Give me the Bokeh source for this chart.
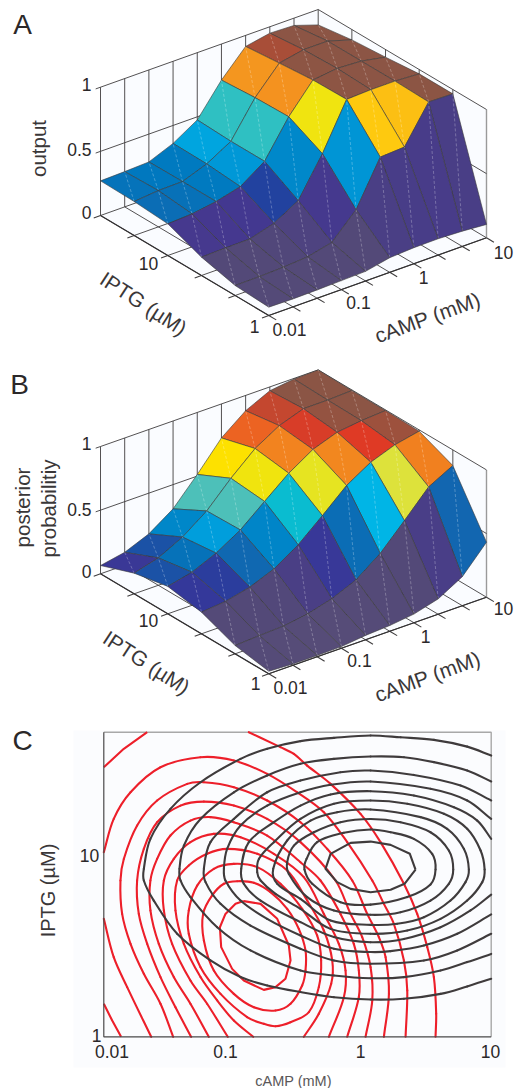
import numpy as np
from bokeh.plotting import figure
from bokeh.layouts import column
from bokeh.models import Range1d
from bokeh.core.properties import value
from bokeh.embed import file_html
from bokeh.resources import INLINE

FONT = "Liberation Sans"
INK = "#2b2829"

# ---- surface heights; rows run from IPTG = 1 (first) to the highest IPTG, columns cAMP 0.01 ... 10
output_z = [
    [.065, .062, .065, .070, .075, .114, .125, .127, .119, .104],
    [.078, .080, .086, .100, .145, .332, .675, .686, .970, .966],
    [.143, .148, .150, .205, .314, .613, .969, .977, .977, .966],
    [.247, .257, .286, .335, .465, .745, .964, .987, .977, .940],
    [.265, .283, .286, .356, .465, .738, .940, .977, .977, .919],
    [.270, .275, .283, .360, .476, .719, .914, .950, .943, .880],
]
posterior_z = [
    [.020, .010, .010, .013, .034, .045, .068, .120, .228, .432],
    [.065, .076, .084, .113, .165, .246, .387, .578, .776, .877],
    [.170, .188, .233, .309, .432, .594, .764, .880, .950, .990],
    [.215, .260, .343, .458, .615, .770, .890, .958, .982, .995],
    [.162, .215, .312, .450, .640, .807, .920, .986, .987, .995],
    [.065, .102, .180, .310, .513, .733, .880, .970, .995, 1.00],
]

# ---- colour scale of the surfaces
scale_z = [0, .08, .114, .148, .17, .205, .228, .26, .283, .314, .345, .387, .432, .45, .46, .462, .578, .60, .64, .675, .72, .776, .807, .88, .92, .94, .964, 1]
scale_c = ["#564c78", "#534978", "#4a3f85", "#45388f", "#34389a", "#22429f", "#1266b0", "#0672b9", "#0078bf", "#0088ca",
           "#009fdd", "#00b5e6", "#0abcd0", "#4dc0b9", "#4dc0b9", "#2abfc6", "#dde23b", "#e9e517", "#fde100", "#fec90f", "#f6a01f", "#f1801f",
           "#ec6322", "#df3a25", "#c4472f", "#a84e38", "#8d5544", "#8a5546"]

# ---- contour traces, log10(cAMP) and log10(IPTG)
b1_x = [1.0, .814, .556, .298, .066, -.218, -.477, -.735, -.941, -1.251, -1.484, -1.639, -1.690, -1.690, -1.613, -1.432, -1.174, -.941, -.735, -.477, -.218, .066, .324, .608, .814, 1.0]
b1_y = [1.540, 1.589, 1.626, 1.640, 1.650, 1.637, 1.619, 1.577, 1.522, 1.394, 1.248, 1.084, .920, .856, .746, .564, .418, .327, .281, .245, .217, .204, .208, .235, .276, .318]
b2_x = [1.0, .814, .556, .324, .066, -.218, -.477, -.735, -.993, -1.251, -1.380, -1.414, -1.406, -1.329, -1.122, -.864, -.477, -.218, .066, .324, .608, .814, 1.0]
b2_y = [1.398, 1.458, 1.504, 1.531, 1.535, 1.522, 1.495, 1.431, 1.339, 1.193, 1.047, .920, .856, .765, .600, .473, .363, .336, .321, .327, .363, .409, .454]
b3_x = [1.0, .763, .401, .066, -.167, -.477, -.735, -.993, -1.174, -1.225, -1.212, -1.096, -.864, -.477, -.218, .066, .479, .737, 1.0]
b3_y = [1.294, 1.376, 1.434, 1.458, 1.449, 1.403, 1.339, 1.193, 1.066, .920, .847, .728, .609, .482, .418, .400, .418, .473, .564]
b4_x = [1.0, .814, .530, .066, -.244, -.477, -.735, -.941, -1.045, -1.070, -1.058, -.941, -.735, -.477, -.218, .066, .221, .479, .737, 1.0]
b4_y = [1.193, 1.294, 1.358, 1.398, 1.380, 1.339, 1.266, 1.157, 1.029, .920, .856, .746, .646, .555, .482, .464, .469, .500, .564, .670]
b5_x = [1.0, .892, .711, .401, .066, -.244, -.477, -.683, -.877, -.936, -.916, -.786, -.477, -.218, .066, .324, .608, .840, 1.0]
b5_y = [1.084, 1.184, 1.257, 1.321, 1.345, 1.327, 1.266, 1.175, 1.066, .920, .838, .746, .628, .546, .518, .536, .600, .692, .779]
b6_x = [.949, .918, .814, .634, .350, .066, -.218, -.477, -.683, -.799, -.812, -.786, -.670, -.477, -.244, .066, .350, .608, .814, .931, .949]
b6_y = [.916, 1.020, 1.139, 1.221, 1.276, 1.294, 1.276, 1.193, 1.066, .974, .901, .856, .783, .701, .591, .564, .582, .646, .746, .847, .916]
b7_x = [.827, .789, .659, .453, .066, -.193, -.399, -.580, -.688, -.657, -.477, -.244, .066, .272, .479, .685, .801, .827]
b7_y = [.916, 1.029, 1.139, 1.203, 1.245, 1.230, 1.184, 1.075, .920, .838, .755, .637, .613, .619, .655, .746, .847, .916]
b8_x = [.706, .672, .530, .298, .066, -.167, -.373, -.528, -.580, -.567, -.425, -.218, .066, .298, .530, .672, .706]
b8_y = [.916, 1.020, 1.120, 1.175, 1.193, 1.175, 1.120, 1.047, .956, .892, .765, .692, .668, .682, .746, .838, .916]
b9_x = [.569, .543, .401, .221, .066, -.141, -.348, -.430, -.446, -.386, -.167, .066, .350, .530, .569]
b9_y = [.916, 1.002, 1.084, 1.120, 1.135, 1.117, 1.066, .974, .916, .838, .737, .724, .765, .834, .916]
b10_x = [.414, .370, .221, .066, -.089, -.244, -.283, -.193, -.089, .066, .221, .329, .414]
b10_y = [.916, 1.002, 1.051, 1.069, 1.062, 1.002, .920, .847, .810, .792, .805, .838, .916]

r1_x = [-.916, -.786, -.657, -.567, -.554, -.593, -.670, -.761, -.916, -1.006, -1.091, -1.101, -1.058, -.980, -.916]
r1_y = [.743, .728, .646, .500, .418, .318, .272, .257, .308, .372, .491, .600, .673, .728, .743]
r2_x = [-.967, -.838, -.709, -.580, -.490, -.438, -.438, -.464, -.554, -.670, -.838, -.993, -1.148, -1.225, -1.231, -1.161, -1.070, -.967]
r2_y = [.852, .843, .792, .701, .591, .473, .363, .281, .181, .144, .162, .235, .363, .527, .673, .774, .838, .852]
r3_x = [-.993, -.812, -.632, -.464, -.348, -.317, -.335, -.412, -.554, -.670, -.761, -.890, -1.096, -1.251, -1.342, -1.342, -1.277, -1.148, -.993]
r3_y = [.947, .929, .838, .701, .555, .418, .272, .135, .080, .058, .071, .108, .235, .381, .564, .692, .828, .920, .947]
r4_x = [-.843, -.993, -1.122, -1.251, -1.380, -1.445, -1.432, -1.342, -1.200, -1.045, -.812, -.580, -.425, -.296, -.231, -.239, -.335, -.451]
r4_y = [0, .089, .199, .327, .509, .692, .856, .938, 1.002, 1.029, 1.002, .911, .746, .582, .418, .290, .126, 0]
r5_x = [-1.040, -1.200, -1.329, -1.471, -1.535, -1.535, -1.458, -1.329, -1.148, -.941, -.683, -.451, -.296, -.180, -.128, -.141, -.257]
r5_y = [0, .181, .308, .509, .692, .856, .974, 1.066, 1.111, 1.093, 1.002, .874, .673, .509, .363, .217, 0]
r6_x = [-1.187, -1.329, -1.458, -1.574, -1.639, -1.639, -1.587, -1.484, -1.329, -1.174, -.993, -.735, -.477, -.322, -.167, -.064, -.025, -.025, -.115]
r6_y = [0, .181, .327, .509, .692, .856, .974, 1.102, 1.184, 1.203, 1.175, 1.102, .956, .856, .673, .509, .363, .217, 0]
r7_x = [-1.324, -1.445, -1.561, -1.664, -1.729, -1.742, -1.690, -1.587, -1.406, -1.225, -.993, -.735, -.477, -.206, -.089, .001, .066, .079, .027]
r7_y = [0, .162, .327, .509, .673, .856, 1.029, 1.175, 1.266, 1.288, 1.266, 1.193, 1.066, .856, .673, .546, .381, .199, 0]
r8_x = [-1.463, -1.561, -1.690, -1.793, -1.858, -1.871, -1.845, -1.742, -1.587, -1.354, -1.225, -.993, -.735, -.477, -.270, -.076, .040, .130, .182, .208, .169]
r8_y = [0, .181, .345, .509, .673, .856, .974, 1.157, 1.294, 1.385, 1.394, 1.367, 1.294, 1.175, 1.029, .856, .673, .546, .436, .235, 0]
r9a_x = [-2, -1.923, -1.793, -1.561, -1.251, -.993, -.735, -.502, -.296, -.115, .079, .169, .246, .324, .350, .337]
r9a_y = [1.011, 1.193, 1.339, 1.476, 1.531, 1.513, 1.440, 1.339, 1.230, 1.066, .856, .728, .619, .418, .254, 0]
r9b_x = [-2, -1.923, -1.819, -1.633]
r9b_y = [.646, .436, .272, 0]
r10a_x = [-2, -1.845, -1.664]
r10a_y = [1.476, 1.577, 1.668]
r10b_x = [-.877, -.632, -.528, -.425, -.244, -.012, .143, .324, .427, .505, .556, .574, .569]
r10b_y = [1.668, 1.586, 1.549, 1.485, 1.385, 1.221, 1.066, .838, .673, .491, .327, .126, 0]
r10c_x = [-2, -1.935, -1.866]
r10c_y = [.181, .089, 0]

black_traces = [(b1_x, b1_y), (b2_x, b2_y), (b3_x, b3_y), (b4_x, b4_y), (b5_x, b5_y),
                (b6_x, b6_y), (b7_x, b7_y), (b8_x, b8_y), (b9_x, b9_y), (b10_x, b10_y)]
red_traces = [(r1_x, r1_y), (r2_x, r2_y), (r3_x, r3_y), (r4_x, r4_y), (r5_x, r5_y), (r6_x, r6_y), (r7_x, r7_y),
              (r8_x, r8_y), (r9a_x, r9a_y), (r9b_x, r9b_y), (r10a_x, r10a_y), (r10b_x, r10b_y), (r10c_x, r10c_y)]

# ---- tick labels
z_ticks = ["1", "0.5", "0"]
camp_ticks = ["0.01", "0.1", "1", "10"]
iptg_ticks = ["10", "1"]


def hex_rgb(c):
    return [int(c[k:k + 2], 16) for k in (1, 3, 5)]


scale_rgb = np.array([hex_rgb(c) for c in scale_c], float)


def colour(z):
    rgb = [int(round(np.interp(z, scale_z, scale_rgb[:, k]))) for k in range(3)]
    return "#%02x%02x%02x" % tuple(rgb)


NI, NJ = 9, 5
TICK_SIZE = "17.5px"
LAB_SIZE = "21px"
LAB_COLOR = "#3a3738"


def surface_panel(Z, top, bottom, base, right, back, zheight, letter, letter_xy, ylabels, zlabel_y, tick_pos, iptg_lab, camp_lab):
    p = figure(width=514, height=bottom - top, x_range=Range1d(0, 514), y_range=Range1d(bottom, top),
               toolbar_location=None, output_backend="svg", x_axis_location=None, y_axis_location=None,
               min_border=0, outline_line_color=None, frame_align=False)
    p.grid.visible = False
    ox, oy = base
    di = ((right[0] - ox) / NI, (right[1] - oy) / NI)
    dj = ((back[0] - ox) / NJ, (back[1] - oy) / NJ)

    def P(i, j, z):
        return ox + i * di[0] + j * dj[0], oy + i * di[1] + j * dj[1] - z * zheight

    def seg(a, b, color="#3f3d3e", width=0.9):
        xa, ya = P(*a)
        xb, yb = P(*b)
        p.line([xa, xb], [ya, yb], line_color=color, line_width=width)

    wall = "#fafcff"
    for corners in ([(0, NJ, 0), (NI, NJ, 0), (NI, NJ, 1), (0, NJ, 1)],
                    [(NI, 0, 0), (NI, NJ, 0), (NI, NJ, 1), (NI, 0, 1)],
                    [(0, 0, 0), (NI, 0, 0), (NI, NJ, 0), (0, NJ, 0)]):
        xy = [P(*c) for c in corners]
        p.patch([q[0] for q in xy], [q[1] for q in xy], fill_color=wall, line_color=None)

    for i in range(NI + 1):
        seg((i, NJ, 0), (i, NJ, 1))
        seg((i, 0, 0), (i, NJ, 0))
        seg((i, 0, 0), (i, -0.22, 0), width=1.1)
    for j in range(NJ + 1):
        if j < NJ:
            seg((NI, j, 0), (NI, j, 1), color="#9a9a9a" if j == 0 else "#3f3d3e", width=1.4 if j == 0 else 0.9)
        seg((0, j, 0), (NI, j, 0))
        seg((0, j, 0), (-0.28, j, 0), width=1.1)
    for z in (0.5, 1):
        seg((0, NJ, z), (NI, NJ, z))
        seg((NI, 0, z), (NI, NJ, z))
        seg((0, NJ, z), (-0.2, NJ, z))
    seg((0, 0, 0), (0, NJ, 0), color="#333132", width=1.2)
    seg((0, 0, 0), (NI, 0, 0), color="#333132", width=1.2)

    faces = [(i, j) for i in range(NI) for j in range(NJ)]
    faces.sort(key=lambda f: -(f[0] * abs(di[1]) + f[1] * abs(dj[1])))
    for i, j in faces:
        corners = [(i, j), (i + 1, j), (i + 1, j + 1), (i, j + 1)]
        xy = [P(a, b, Z[b][a]) for a, b in corners]
        p.patch([q[0] for q in xy], [q[1] for q in xy], fill_color=colour(Z[j][i]),
                line_color="#3a3a3a", line_width=0.7, line_alpha=0.85)
        p.line([xy[0][0], xy[2][0]], [xy[0][1], xy[2][1]], line_color="white", line_width=0.7, line_alpha=0.38, line_dash="3 2")

    def txt(x, y, s, size=TICK_SIZE, angle=0, color=INK, align="center"):
        p.text([x], [y], text=[s], text_font=value(FONT), text_font_size=size, text_color=color, angle=angle,
               angle_units="deg", text_align=align, text_baseline="middle")

    txt(letter_xy[0], letter_xy[1], letter, size="28px")
    for lab, y in zip(z_ticks, zlabel_y):
        txt(91, y, lab, align="right")
    for lab, (x, y) in zip(iptg_ticks + camp_ticks, tick_pos):
        txt(x, y, lab)
    for s, x, y in ylabels:
        txt(x, y, s, angle=90, size="20.5px", color=LAB_COLOR)
    txt(iptg_lab[0], iptg_lab[1], "IPTG (µM)", angle=-33, size=LAB_SIZE, color=LAB_COLOR)
    txt(camp_lab[0], camp_lab[1], "cAMP (mM)", angle=20, size=LAB_SIZE, color=LAB_COLOR)
    return p


pa = surface_panel(output_z, 0, 363, (268.3, 315.0), (486.0, 237.3), (100.0, 215.0), 128.3, "A", (22, 24),
                   [("output", 38, 148)], [84, 149, 212],
                   [(148, 263), (254, 326), (289, 329), (358, 302), (423, 277), (503, 252)], (143, 303), (427, 317))
pb = surface_panel(posterior_z, 363, 723, (268.3, 673.3), (486.0, 596.7), (100.0, 573.3), 127.3, "B", (19, 384),
                   [("posterior", 22, 507), ("probabilitiy", 48, 508)], [443, 509, 571],
                   [(148, 620), (255, 683), (290, 687), (359, 660), (425, 636), (503, 608)], (146, 662), (427, 676))

# ---- panel C: the log scales span the whole figure, the plot box sits inside them
C_TOP, C_BOTTOM = 723, 1088
F_L, F_R, F_T, F_B = 103.3, 490.7, 731.7, 1036.3
LOG_TOP = 1.668
PX_X = (F_R - F_L) / 3
PX_Y = (F_B - F_T) / LOG_TOP


def d(px, py):
    return (10 ** (-2 + 3 * (px - F_L) / (F_R - F_L)),
            10 ** (LOG_TOP * (F_B - py) / (F_B - F_T)))


xa0, ya0 = d(0, C_BOTTOM)
xa1, ya1 = d(514, C_TOP)
pc = figure(width=514, height=C_BOTTOM - C_TOP, x_axis_type="log", y_axis_type="log",
            x_range=Range1d(xa0, xa1), y_range=Range1d(ya0, ya1), toolbar_location=None, output_backend="svg",
            x_axis_location=None, y_axis_location=None, min_border=0, outline_line_color=None, frame_align=False)
pc.grid.visible = False

xp0, yp0 = d(73, 1067)
xp1, yp1 = d(505, 730)
pc.quad(left=[xp0], right=[xp1], bottom=[yp0], top=[yp1], fill_color="#fbfcfe", line_color=None)
XMIN, XMAX, YMIN, YMAX = 0.01, 10, 1, 10 ** LOG_TOP
pc.line([XMIN, XMAX, XMAX], [YMAX, YMAX, YMIN], line_color="#a8a8a8", line_width=1.4)


def draw_trace(xs, ys, color, smooth=True, width=2.1):
    """Draw through the read points; between them a bezier glyph rounds the corners."""
    xs, ys = np.array(xs), np.array(ys)
    if not smooth or len(xs) < 4:
        pc.line(10 ** xs, 10 ** ys, line_color=color, line_width=width, line_join="round")
        return
    closed = abs(xs[0] - xs[-1]) < 1e-9 and abs(ys[0] - ys[-1]) < 1e-9
    n = len(xs)
    sx, sy = xs * PX_X, ys * PX_Y
    if closed:
        tx = np.r_[sx[1] - sx[-2], sx[2:] - sx[:-2], sx[1] - sx[-2]]
        ty = np.r_[sy[1] - sy[-2], sy[2:] - sy[:-2], sy[1] - sy[-2]]
    else:
        tx = np.r_[sx[1] - sx[0], sx[2:] - sx[:-2], sx[-1] - sx[-2]]
        ty = np.r_[sy[1] - sy[0], sy[2:] - sy[:-2], sy[-1] - sy[-2]]
    norm = np.hypot(tx, ty)
    tx, ty = tx / norm, ty / norm
    seglen = np.hypot(np.diff(sx), np.diff(sy)) / 3
    cx0 = (sx[:-1] + tx[:-1] * seglen) / PX_X
    cy0 = (sy[:-1] + ty[:-1] * seglen) / PX_Y
    cx1 = (sx[1:] - tx[1:] * seglen) / PX_X
    cy1 = (sy[1:] - ty[1:] * seglen) / PX_Y
    pc.bezier(x0=10 ** xs[:-1], y0=10 ** ys[:-1], x1=10 ** xs[1:], y1=10 ** ys[1:],
              cx0=10 ** cx0, cy0=10 ** cy0, cx1=10 ** cx1, cy1=10 ** cy1,
              line_color=color, line_width=width, line_cap="round")


for k, (xs, ys) in enumerate(red_traces):
    draw_trace(xs, ys, "#ed1f2a", smooth=k > 0)
for k, (xs, ys) in enumerate(black_traces):
    draw_trace(xs, ys, "#3f3b3c", smooth=k < 9)
pc.line([XMIN, XMIN, XMAX], [YMAX, YMIN, YMIN], line_color="#4a4849", line_width=1.2)


def label(px, py, s, size=TICK_SIZE, angle=0.0, color=INK):
    x, y = d(px, py)
    pc.text([x], [y], text=[s], text_font=value(FONT), text_font_size=size, text_color=color, angle=angle,
            angle_units="deg", text_align="center", text_baseline="middle")


label(22, 740, "C", size="28px")
for s, (px, py) in zip(camp_ticks, [(111.5, 1051), (225, 1051), (360, 1051), (490, 1051)]):
    label(px, py, s)
for s, (px, py) in zip(iptg_ticks, [(89, 855), (96, 1035)]):
    label(px, py, s)
label(47, 890, "IPTG (µM)", size="20px", angle=90, color=LAB_COLOR)
label(293, 1080, "cAMP (mM)", size="14.5px", color="#5a5758")

layout = column(pa, pb, pc, spacing=0)
open("out.html", "w").write(file_html(layout, INLINE))
